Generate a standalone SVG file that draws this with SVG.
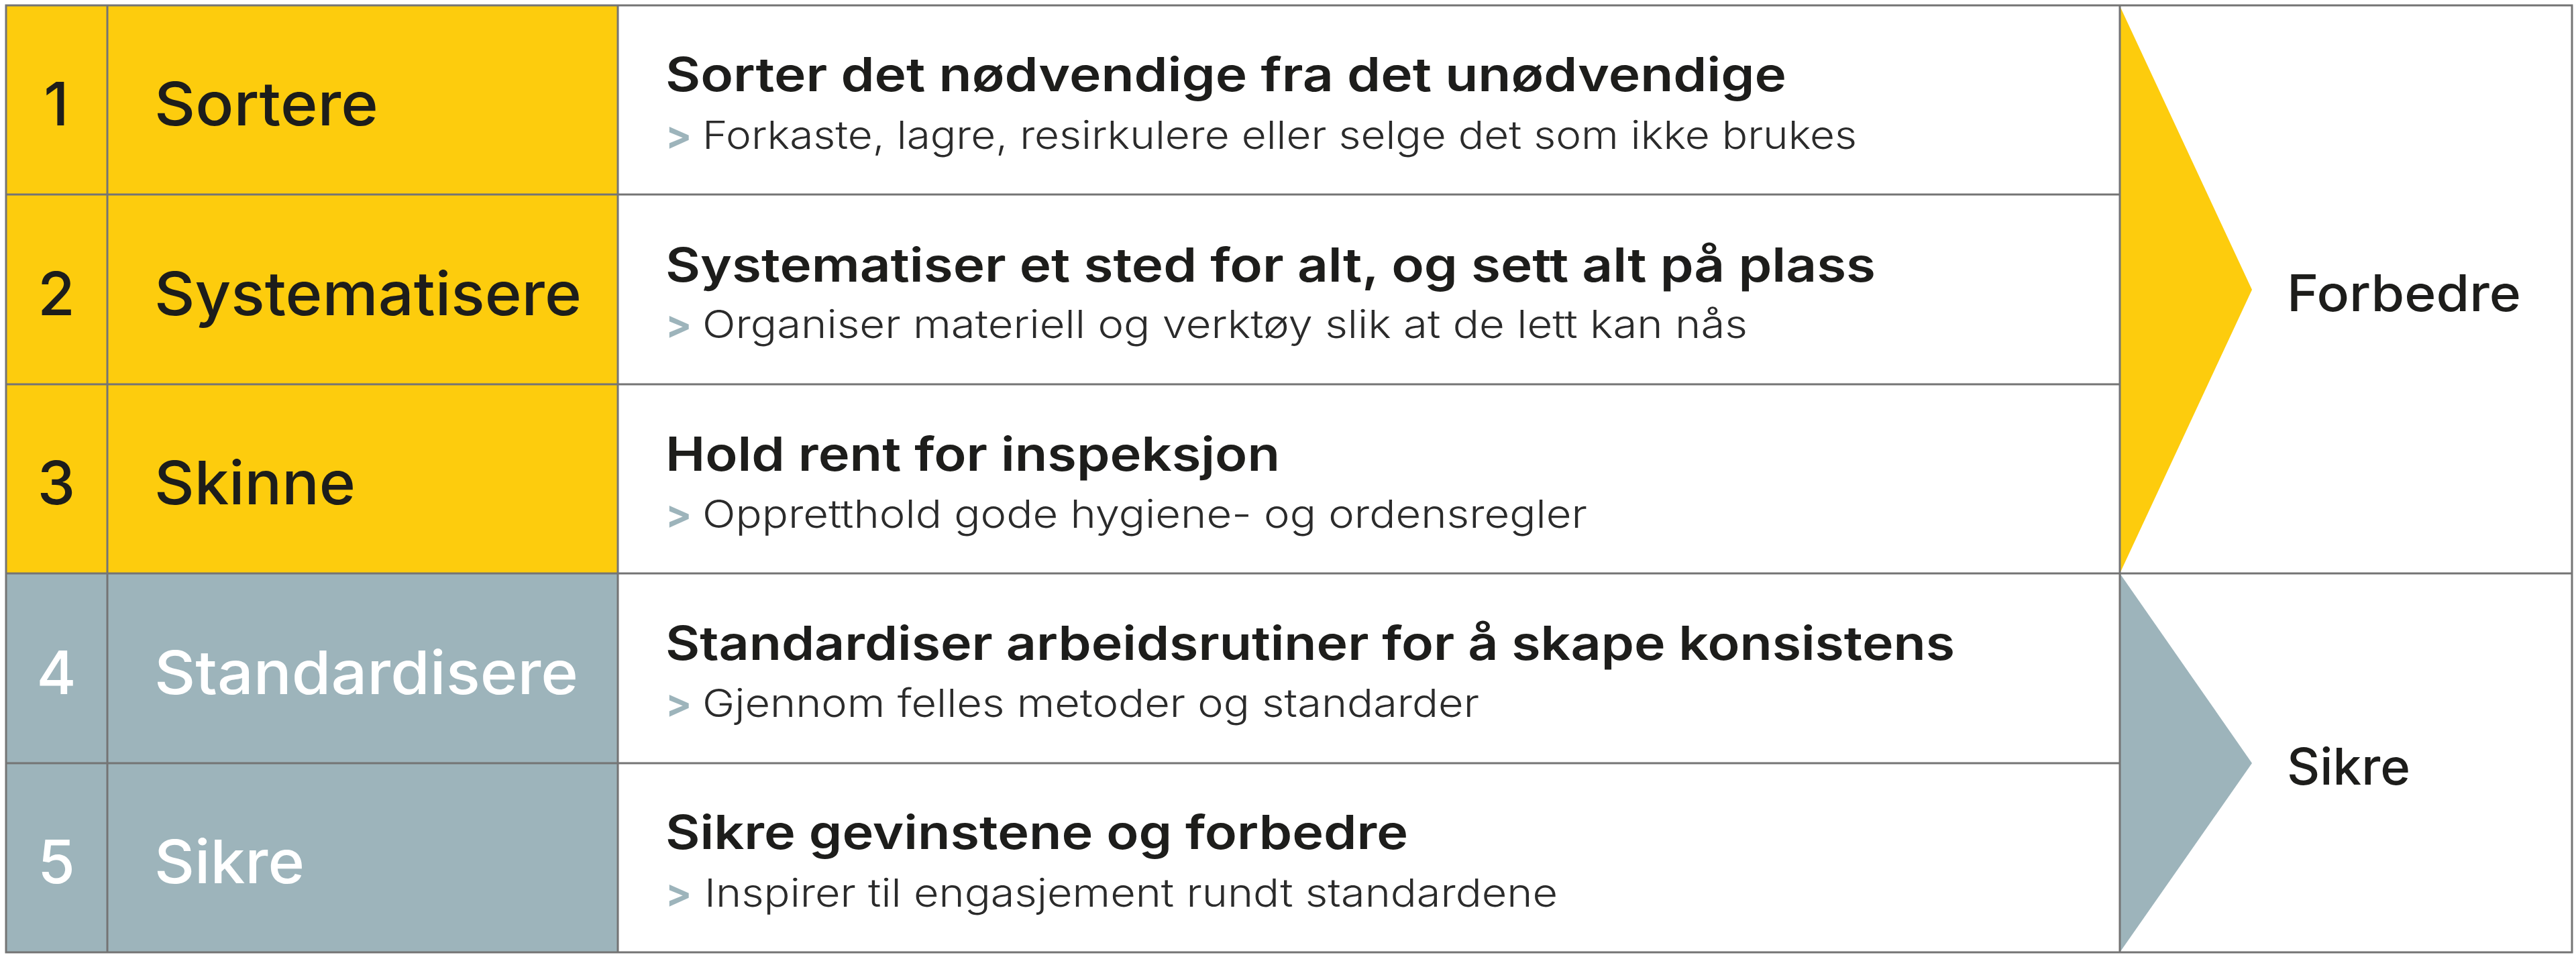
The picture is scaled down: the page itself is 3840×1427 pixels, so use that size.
<svg xmlns="http://www.w3.org/2000/svg" width="3840" height="1427" viewBox="0 0 3840 1427">
<style>
.yel{fill:#FDCC0D}
.gry{fill:#9DB4BB}
.ln{stroke:#747474;stroke-width:3;fill:none}
.num{font-family:Inter,"Liberation Sans",sans-serif;font-weight:500;font-size:90px;text-anchor:middle}
.lab{font-family:Inter,"Liberation Sans",sans-serif;font-weight:500;font-size:90px}
.dk{fill:#1d1d1b}
.wt{fill:#ffffff}
.ttl{font-family:Inter,"Liberation Sans",sans-serif;font-weight:600;font-size:70px;fill:#1d1d1b}
.sub{font-family:Inter,"Liberation Sans",sans-serif;font-weight:300;font-size:58px;fill:#2b2b2b}
.gt{font-family:Inter,"Liberation Sans",sans-serif;font-weight:700;font-size:58px;fill:#9DB4BB}
.side{font-family:Inter,"Liberation Sans",sans-serif;font-weight:500;font-size:75px;fill:#1d1d1b}
</style>
<rect x="0" y="0" width="3840" height="1427" fill="#ffffff"/>
<g id="fills">
<rect class="yel" x="9" y="8" width="912" height="847"/>
<rect class="gry" x="9" y="855" width="912" height="565"/>
<polygon id="chev-forbedre" class="yel" points="3160,9 3357,432 3160,855"/>
<polygon id="chev-sikre" class="gry" points="3160,855 3357,1138 3160,1420"/>
</g>
<g id="grid">
<rect class="ln" x="9" y="8" width="3825" height="1412"/>
<line class="ln" x1="160" y1="8" x2="160" y2="1420"/>
<line class="ln" x1="921" y1="8" x2="921" y2="1420"/>
<line class="ln" x1="3160" y1="8" x2="3160" y2="1420"/>
<line class="ln" x1="9" y1="290" x2="3160" y2="290"/>
<line class="ln" x1="9" y1="573" x2="3160" y2="573"/>
<line class="ln" x1="9" y1="855" x2="3834" y2="855"/>
<line class="ln" x1="9" y1="1138" x2="3160" y2="1138"/>
</g>
<g id="row1">
<text class="num dk" x="84" y="187">1</text>
<text class="lab dk" x="230" y="187" textLength="334" lengthAdjust="spacingAndGlyphs">Sortere</text>
<text class="ttl" x="992" y="136" textLength="1671" lengthAdjust="spacingAndGlyphs">Sorter det nødvendige fra det unødvendige</text>
<text class="gt" x="992" y="222">&gt;</text>
<text class="sub" x="1047" y="222" textLength="1721" lengthAdjust="spacingAndGlyphs">Forkaste, lagre, resirkulere eller selge det som ikke brukes</text>
</g>
<g id="row2">
<text class="num dk" x="84" y="470">2</text>
<text class="lab dk" x="230" y="470" textLength="637" lengthAdjust="spacingAndGlyphs">Systematisere</text>
<text class="ttl" x="992" y="420" textLength="1804" lengthAdjust="spacingAndGlyphs">Systematiser et sted for alt, og sett alt på plass</text>
<text class="gt" x="992" y="504">&gt;</text>
<text class="sub" x="1047" y="504" textLength="1558" lengthAdjust="spacingAndGlyphs">Organiser materiell og verktøy slik at de lett kan nås</text>
</g>
<g id="row3">
<text class="num dk" x="84" y="752">3</text>
<text class="lab dk" x="230" y="752" textLength="300" lengthAdjust="spacingAndGlyphs">Skinne</text>
<text class="ttl" x="992" y="702" textLength="916" lengthAdjust="spacingAndGlyphs">Hold rent for inspeksjon</text>
<text class="gt" x="992" y="787">&gt;</text>
<text class="sub" x="1047" y="787" textLength="1319" lengthAdjust="spacingAndGlyphs">Oppretthold gode hygiene- og ordensregler</text>
</g>
<g id="row4">
<text class="num wt" x="84" y="1035">4</text>
<text class="lab wt" x="230" y="1035" textLength="632" lengthAdjust="spacingAndGlyphs">Standardisere</text>
<text class="ttl" x="992" y="984" textLength="1922" lengthAdjust="spacingAndGlyphs">Standardiser arbeidsrutiner for å skape konsistens</text>
<text class="gt" x="992" y="1069">&gt;</text>
<text class="sub" x="1047" y="1069" textLength="1158" lengthAdjust="spacingAndGlyphs">Gjennom felles metoder og standarder</text>
</g>
<g id="row5">
<text class="num wt" x="84" y="1317">5</text>
<text class="lab wt" x="230" y="1317" textLength="224" lengthAdjust="spacingAndGlyphs">Sikre</text>
<text class="ttl" x="992" y="1266" textLength="1107" lengthAdjust="spacingAndGlyphs">Sikre gevinstene og forbedre</text>
<text class="gt" x="992" y="1352">&gt;</text>
<text class="sub" x="1050" y="1352" textLength="1272" lengthAdjust="spacingAndGlyphs">Inspirer til engasjement rundt standardene</text>
</g>
<g id="side-forbedre">
<text class="side" x="3409" y="464" textLength="349" lengthAdjust="spacingAndGlyphs">Forbedre</text>
</g>
<g id="side-sikre">
<text class="side" x="3409" y="1170" textLength="184" lengthAdjust="spacingAndGlyphs">Sikre</text>
</g>
</svg>
